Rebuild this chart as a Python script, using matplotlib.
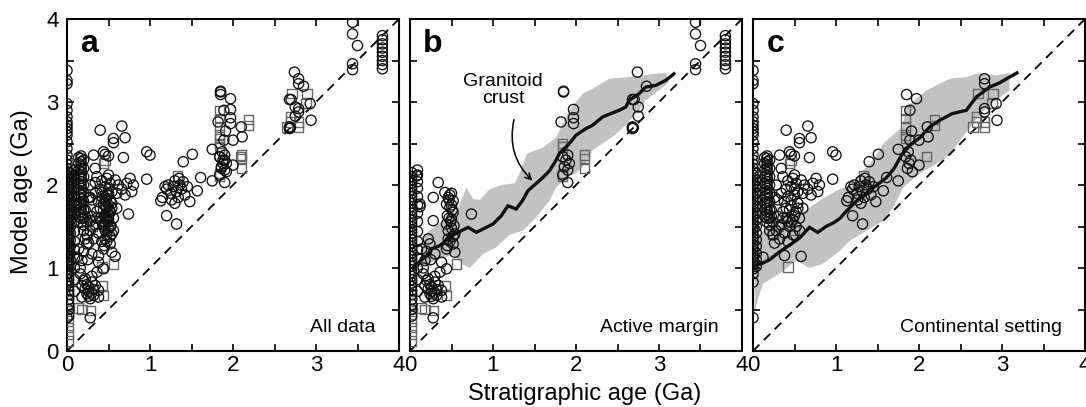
import matplotlib
matplotlib.use("Agg")
import matplotlib.pyplot as plt
from matplotlib.patches import FancyArrowPatch
from matplotlib.ticker import MultipleLocator

plt.rcParams["font.family"] = ["Liberation Sans", "DejaVu Sans"]

# ---------------------------------------------------------------------------
# Data (stratigraphic age, model age) in Ga
# ---------------------------------------------------------------------------

# Active margin: dense columns near x = 0
am_col0_x = 0.02
am_col0_y = [0.42, 0.5, 0.56, 0.62, 0.68, 0.73, 0.78, 0.82, 0.86, 0.9, 0.94, 0.98,
             1.02, 1.06, 1.1, 1.14, 1.18, 1.22, 1.26, 1.3, 1.34, 1.38, 1.42, 1.46,
             1.5, 1.54, 1.58, 1.62, 1.66, 1.7, 1.74, 1.78, 1.82, 1.86, 1.9, 1.94,
             1.98, 2.02, 2.06, 2.1, 2.15]
am_col1_x = 0.09
am_col1_y = [0.72, 0.86, 1.0, 1.12, 1.22, 1.32, 1.44, 1.56, 1.66, 1.76, 1.86, 1.96,
             2.04, 2.12, 2.18]
am_colsq_x = 0.02
am_colsq_y = [0.12, 0.2, 0.28, 0.36, 0.44, 0.52, 0.6, 0.68]

am_circles = [
    (0.34, 2.03), (0.28, 1.85), (0.42, 1.91), (0.46, 1.85), (0.48, 1.88), (0.52, 1.81),
    (0.44, 1.77), (0.48, 1.73), (0.52, 1.67), (0.45, 1.63), (0.5, 1.59), (0.44, 1.53),
    (0.53, 1.51), (0.46, 1.45), (0.54, 1.41), (0.46, 1.35), (0.52, 1.29), (0.44, 1.23),
    (0.54, 1.19), (0.28, 1.57), (0.74, 1.65), (0.22, 1.35), (0.24, 1.29), (0.14, 1.23),
    (0.3, 1.17), (0.18, 1.09), (0.38, 1.07), (0.44, 0.99), (0.36, 0.95), (0.16, 0.93),
    (0.22, 0.87), (0.3, 0.83), (0.18, 0.79), (0.26, 0.77), (0.34, 0.79), (0.38, 0.73),
    (0.24, 0.69), (0.32, 0.67), (0.18, 0.65), (0.28, 0.63), (0.38, 0.65), (0.28, 0.4),
    (0.12, 1.77), (0.12, 1.74), (0.08, 2.11), (0.5, 1.9), (0.47, 1.82), (0.22, 0.75),
    (0.26, 0.72), (0.3, 0.9), (0.2, 0.85), (0.16, 1.0), (0.25, 1.1), (0.2, 1.2),
    (0.5, 1.76), (0.49, 1.56), (0.5, 1.48), (0.48, 1.32), (0.26, 0.66), (0.32, 0.74),
    (0.51, 1.7), (0.47, 1.6), (0.52, 1.38), (0.45, 1.27), (0.24, 0.8), (0.3, 0.7),
    (1.85, 3.12), (1.85, 3.13), (1.97, 2.91), (1.97, 2.81), (1.97, 2.74), (1.82, 2.76),
    (1.9, 2.36), (1.84, 2.34), (1.92, 2.26), (1.86, 2.22), (1.9, 2.18), (1.84, 2.12),
    (1.9, 2.03), (1.88, 2.3),
    (2.74, 3.36), (2.85, 3.19), (2.68, 3.03), (2.7, 3.03), (2.75, 2.94), (2.75, 2.83),
    (2.68, 2.68), (2.69, 2.69), (2.68, 2.7),
    (3.44, 3.96), (3.44, 3.82), (3.5, 3.68), (3.44, 3.46), (3.44, 3.39),
    (3.8, 3.40), (3.8, 3.45), (3.8, 3.5), (3.8, 3.55), (3.8, 3.6), (3.8, 3.65),
    (3.8, 3.7), (3.8, 3.75), (3.8, 3.8),
]
am_squares = [
    (0.56, 1.05), (0.42, 0.79), (0.44, 0.67), (0.14, 0.52), (0.18, 0.5), (0.28, 0.49),
    (1.84, 2.5), (1.84, 2.46), (1.84, 2.11), (1.84, 2.14), (2.1, 2.36), (2.1, 2.32),
    (2.1, 2.2),
]

# Continental setting: dense columns near x = 0
cs_col0_x = 0.0
cs_col0_y = [0.40, 0.83, 0.93, 0.99, 1.04, 1.08, 1.12, 1.16, 1.2, 1.24, 1.28, 1.32,
             1.36, 1.4, 1.44, 1.48, 1.52, 1.56, 1.6, 1.64, 1.68, 1.72, 1.76, 1.8,
             1.84, 1.88, 1.92, 1.96, 2.0, 2.04, 2.08, 2.12, 2.16, 2.2, 2.25, 2.3,
             2.36, 2.44, 2.52, 2.6, 2.64, 2.68, 2.72, 2.76, 2.82, 2.9, 2.98, 3.22,
             3.26, 3.38]
cs_col1_x = 0.17
cs_col1_y = [1.55, 1.6, 1.64, 1.68, 1.72, 1.76, 1.8, 1.84, 1.88, 1.92, 1.96, 2.0,
             2.04, 2.08, 2.12, 2.16, 2.2, 2.24, 2.28, 2.32, 2.35]
cs_col2_x = 0.2
cs_col2_y = [1.45, 1.52, 1.6, 1.7, 1.8, 1.9, 2.0, 2.1, 2.2, 2.3]
cs_col3_x = 0.04
cs_col3_y = [1.02, 1.1, 1.18, 1.26, 1.34, 1.42, 1.5, 1.58, 1.66, 1.74, 1.82, 1.9,
             1.98, 2.06, 2.14]
cs_col4_x = 0.14
cs_col4_y = [1.62, 1.7, 1.78, 1.86, 1.94, 2.02, 2.1, 2.18, 2.26, 2.33]

cs_circles = [
    (0.32, 2.36), (0.46, 2.37), (0.44, 2.4), (0.5, 2.35), (0.68, 2.33), (0.4, 2.66),
    (0.66, 2.71), (0.56, 2.56), (0.7, 2.57), (0.56, 2.51), (0.96, 2.40), (1.0, 2.36),
    (0.96, 2.07),
    (0.36, 2.1), (0.42, 2.05), (0.48, 2.08), (0.52, 2.02), (0.58, 2.06), (0.62, 2.0),
    (0.66, 1.95), (0.72, 2.02), (0.76, 2.08), (0.8, 2.0), (0.78, 1.92), (0.7, 1.88),
    (0.6, 1.9), (0.5, 1.95), (0.4, 1.95), (0.34, 1.9), (0.3, 1.82), (0.38, 1.8),
    (0.46, 1.82), (0.54, 1.78), (0.6, 1.72), (0.52, 1.68), (0.44, 1.7), (0.36, 1.68),
    (0.3, 1.62), (0.4, 1.6), (0.48, 1.58), (0.56, 1.6), (0.34, 1.52), (0.44, 1.5),
    (0.52, 1.5), (0.28, 1.45), (0.38, 1.42), (0.48, 1.4), (0.56, 1.45), (0.32, 1.35),
    (0.42, 1.32), (0.26, 1.3), (0.58, 1.14), (0.38, 1.15), (0.12, 1.13), (0.24, 1.55),
    (0.22, 1.7), (0.26, 1.85), (0.28, 2.0), (0.34, 2.2), (0.24, 1.4), (0.22, 1.62),
    (0.46, 1.98), (0.5, 1.88), (0.46, 1.75), (0.5, 1.63), (0.46, 1.55), (0.5, 2.12),
    (0.42, 1.86), (0.54, 1.92), (0.4, 1.72), (0.54, 1.72), (0.42, 1.56), (0.36, 1.6),
    (1.85, 3.09), (1.97, 3.04), (1.89, 2.9), (1.91, 2.65), (1.89, 2.54), (2.0, 2.54),
    (2.11, 2.58), (2.1, 2.7), (1.75, 2.43), (1.87, 2.4), (1.84, 2.34), (1.9, 2.3),
    (1.88, 2.26), (1.86, 2.2), (2.0, 2.24), (1.92, 2.16), (1.51, 2.37), (1.4, 2.28),
    (1.61, 2.09), (1.75, 2.05), (1.57, 1.93),
    (1.13, 1.81), (1.15, 1.85), (1.2, 1.95), (1.22, 2.0), (1.25, 1.9), (1.28, 1.98),
    (1.3, 2.05), (1.32, 1.92), (1.34, 1.85), (1.36, 2.0), (1.38, 1.95), (1.4, 2.04),
    (1.42, 1.88), (1.45, 1.98), (1.26, 1.82), (1.3, 1.78), (1.48, 1.8), (1.2, 1.63),
    (1.32, 1.53), (1.18, 1.98), (1.35, 2.08),
    (2.79, 3.28), (2.79, 3.22), (2.93, 2.98), (2.79, 2.92), (2.79, 2.88), (2.94, 2.78),
]
cs_squares = [
    (1.84, 2.9), (1.84, 2.8), (1.84, 2.7), (1.84, 2.6), (1.84, 2.56), (2.19, 2.79),
    (2.19, 2.72), (2.09, 2.34), (1.33, 2.11), (2.71, 3.1), (2.89, 3.1), (2.88, 2.98),
    (2.69, 2.82), (2.69, 2.76), (2.65, 2.7), (2.79, 2.76), (2.79, 2.7), (0.44, 2.26),
    (0.46, 2.3), (0.24, 1.41), (0.42, 1.01), (0.3, 1.5), (0.5, 1.45),
]

# Granitoid crust curves and envelopes
b_line = [(0.04, 1.0), (0.12, 1.08), (0.2, 1.15), (0.26, 1.23), (0.36, 1.27),
          (0.46, 1.35), (0.54, 1.41), (0.62, 1.45), (0.7, 1.49), (0.8, 1.43),
          (0.9, 1.48), (1.0, 1.53), (1.1, 1.63), (1.18, 1.75), (1.28, 1.71),
          (1.36, 1.82), (1.42, 1.93), (1.5, 2.0), (1.6, 2.09), (1.68, 2.17),
          (1.76, 2.3), (1.8, 2.38), (1.92, 2.5), (2.0, 2.6), (2.12, 2.68),
          (2.2, 2.72), (2.32, 2.82), (2.52, 2.9), (2.6, 2.94), (2.64, 3.02),
          (2.76, 3.1), (2.84, 3.18), (2.96, 3.2), (3.08, 3.26), (3.18, 3.34)]
b_band_upper = [(0.14, 1.3), (0.18, 1.41), (0.3, 1.5), (0.45, 1.6), (0.58, 1.72),
                (0.68, 1.97), (0.76, 1.83), (0.84, 1.82), (0.96, 1.95), (1.1, 2.0),
                (1.26, 2.02), (1.32, 2.14), (1.41, 2.38), (1.6, 2.45), (1.76, 2.57),
                (1.92, 2.9), (2.08, 3.1), (2.2, 3.16), (2.4, 3.28), (2.62, 3.3),
                (2.8, 3.32), (2.96, 3.34), (3.08, 3.35)]
b_band_lower = [(3.12, 3.24), (3.0, 3.14), (2.84, 3.02), (2.76, 2.9), (2.6, 2.72),
                (2.44, 2.58), (2.32, 2.5), (2.2, 2.42), (2.12, 2.26), (2.0, 2.14),
                (1.9, 2.1), (1.76, 1.97), (1.68, 1.81), (1.52, 1.61), (1.36, 1.45),
                (1.2, 1.4), (1.04, 1.25), (0.88, 1.17), (0.72, 1.0), (0.64, 1.04),
                (0.52, 1.16), (0.32, 1.09), (0.12, 1.0)]

c_line = [(0.0, 1.03), (0.1, 1.05), (0.2, 1.1), (0.3, 1.18), (0.46, 1.29),
          (0.56, 1.36), (0.68, 1.49), (0.78, 1.43), (0.88, 1.5), (0.98, 1.55),
          (1.05, 1.6), (1.12, 1.68), (1.25, 1.81), (1.35, 1.88), (1.44, 1.96),
          (1.61, 2.09), (1.7, 2.2), (1.79, 2.36), (1.89, 2.48), (2.01, 2.57),
          (2.13, 2.7), (2.25, 2.78), (2.4, 2.86), (2.57, 2.9), (2.69, 3.06),
          (2.85, 3.18), (2.97, 3.23), (3.09, 3.3), (3.18, 3.35)]
c_band_upper = [(0.02, 1.2), (0.08, 1.41), (0.2, 1.5), (0.32, 1.57), (0.5, 1.62),
                (0.65, 1.7), (0.8, 1.81), (1.04, 1.95), (1.2, 2.0), (1.29, 2.14),
                (1.45, 2.3), (1.57, 2.5), (1.8, 2.7), (1.85, 2.94), (2.09, 3.14),
                (2.37, 3.28), (2.57, 3.3), (2.73, 3.35), (2.93, 3.32), (3.09, 3.35)]
c_band_lower = [(3.09, 3.14), (2.93, 3.02), (2.76, 2.88), (2.65, 2.74), (2.41, 2.42),
                (2.29, 2.3), (2.01, 2.14), (1.81, 1.97), (1.69, 1.73), (1.57, 1.57),
                (1.37, 1.45), (1.17, 1.33), (1.05, 1.21), (1.0, 1.17), (0.84, 1.05),
                (0.68, 1.0), (0.52, 1.09), (0.32, 0.93), (0.12, 0.81), (0.06, 0.62),
                (0.02, 0.45)]

panel_letters = ["a", "b", "c"]
panel_titles = ["All data", "Active margin", "Continental setting"]
ticks = [0, 1, 2, 3, 4]


def column(x, ys):
    return [(x, y) for y in ys]


am_c = am_circles + column(am_col0_x, am_col0_y) + column(am_col1_x, am_col1_y)
am_s = am_squares + column(am_colsq_x, am_colsq_y)
cs_c = cs_circles + column(cs_col0_x, cs_col0_y) + column(cs_col1_x, cs_col1_y) \
    + column(cs_col2_x, cs_col2_y) + column(cs_col3_x, cs_col3_y) \
    + column(cs_col4_x, cs_col4_y)
cs_s = cs_squares

panels = [
    (am_c + cs_c, am_s + cs_s, None, None, None),
    (am_c, am_s, b_line, b_band_upper, b_band_lower),
    (cs_c, cs_s, c_line, c_band_upper, c_band_lower),
]

fig = plt.figure(figsize=(10.86, 4.07), dpi=100)
lefts = [67, 410, 753]

for i, (circ, sq, line, up, lo) in enumerate(panels):
    ax = fig.add_axes([lefts[i] / 1086, 56 / 407, 332 / 1086, 332 / 407])
    ax.set_xlim(0, 4)
    ax.set_ylim(0, 4)

    if line is not None:
        poly = up + lo
        ax.fill([p[0] for p in poly], [p[1] for p in poly], color="#c2c2c2",
                lw=0, zorder=1)

    ax.plot([0, 4], [0, 4], color="black", lw=1.3, dashes=(5, 3.5), zorder=2)

    ax.scatter([p[0] for p in sq], [p[1] for p in sq], marker="s", s=46,
               facecolors="none", edgecolors="#666666", linewidths=1.0, zorder=3)
    ax.scatter([p[0] for p in circ], [p[1] for p in circ], marker="o", s=54,
               facecolors="none", edgecolors="#111111", linewidths=0.95, zorder=4)

    if line is not None:
        ax.plot([p[0] for p in line], [p[1] for p in line], color="#111111",
                lw=2.4, solid_joinstyle="miter", zorder=5)

    ax.set_xticks(ticks)
    ax.set_yticks(ticks)
    ax.xaxis.set_minor_locator(MultipleLocator(0.5))
    ax.yaxis.set_minor_locator(MultipleLocator(0.5))
    ax.tick_params(which="both", direction="in", top=True, right=True,
                   length=5, width=1.2, labelsize=16)
    ax.tick_params(axis="x", pad=3)
    ax.tick_params(axis="y", pad=6)
    if i > 0:
        ax.tick_params(labelleft=False)
    for s in ax.spines.values():
        s.set_linewidth(1.5)

    ax.text(0.04, 0.925, panel_letters[i], transform=ax.transAxes,
            fontsize=23, fontweight="bold", ha="left", va="center")
    ax.text(0.93, 0.072, panel_titles[i], transform=ax.transAxes,
            fontsize=14, ha="right", va="center")

    if i == 1:
        ax.text(1.12, 3.14, "Granitoid\ncrust", fontsize=14, ha="center",
                va="center", linespacing=1.0)
        arr = FancyArrowPatch((1.26, 2.82), (1.5, 2.03),
                              connectionstyle="arc3,rad=0.3", arrowstyle="->",
                              mutation_scale=11, lw=1.1, color="black", zorder=6)
        ax.add_patch(arr)

fig.text(585 / 1086, 1 - 394 / 407, "Stratigraphic age (Ga)", fontsize=17,
         ha="center", va="center")
fig.text(22 / 1086, 1 - 192 / 407, "Model age (Ga)", fontsize=17,
         ha="center", va="center", rotation=90)

fig.savefig("out.png", dpi=100)
